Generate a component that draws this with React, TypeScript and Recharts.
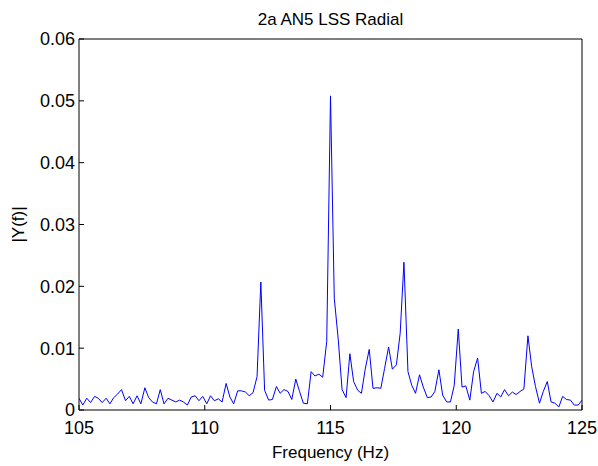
import { Label, Line, LineChart, XAxis, YAxis } from "recharts"

// frequency bins (Hz), step 2/13 Hz
const freqs = [
  105.0, 105.15, 105.31, 105.46, 105.62, 105.77, 105.92, 106.08, 106.23, 106.38, 106.54, 106.69, 106.85,
  107.0, 107.15, 107.31, 107.46, 107.62, 107.77, 107.92, 108.08, 108.23, 108.38, 108.54, 108.69, 108.85,
  109.0, 109.15, 109.31, 109.46, 109.62, 109.77, 109.92, 110.08, 110.23, 110.38, 110.54, 110.69, 110.85,
  111.0, 111.15, 111.31, 111.46, 111.62, 111.77, 111.92, 112.08, 112.23, 112.38, 112.54, 112.69, 112.85,
  113.0, 113.15, 113.31, 113.46, 113.62, 113.77, 113.92, 114.08, 114.23, 114.38, 114.54, 114.69, 114.85,
  115.0, 115.15, 115.31, 115.46, 115.62, 115.77, 115.92, 116.08, 116.23, 116.38, 116.54, 116.69, 116.85,
  117.0, 117.15, 117.31, 117.46, 117.62, 117.77, 117.92, 118.08, 118.23, 118.38, 118.54, 118.69, 118.85,
  119.0, 119.15, 119.31, 119.46, 119.62, 119.77, 119.92, 120.08, 120.23, 120.38, 120.54, 120.69, 120.85,
  121.0, 121.15, 121.31, 121.46, 121.62, 121.77, 121.92, 122.08, 122.23, 122.38, 122.54, 122.69, 122.85,
  123.0, 123.15, 123.31, 123.46, 123.62, 123.77, 123.92, 124.08, 124.23, 124.38, 124.54, 124.69, 124.85,
  125.0,
]

// |Y(f)|
const magnitude = [
  0.0019, 0.0008, 0.0019, 0.0012, 0.0022, 0.0019, 0.0012, 0.0019, 0.001, 0.002, 0.0026, 0.0033, 0.0015,
  0.0022, 0.001, 0.0023, 0.001, 0.0036, 0.002, 0.0013, 0.001, 0.0033, 0.001, 0.0019, 0.0016, 0.0013,
  0.0016, 0.0013, 0.0008, 0.0021, 0.0023, 0.0015, 0.0022, 0.001, 0.0023, 0.0015, 0.0018, 0.0013, 0.0043,
  0.0021, 0.001, 0.0031, 0.0031, 0.0029, 0.0023, 0.0028, 0.0054, 0.0207, 0.0032, 0.0016, 0.0017, 0.0038,
  0.0027, 0.0033, 0.003, 0.0017, 0.005, 0.003, 0.0011, 0.001, 0.0062, 0.0055, 0.0058, 0.0053, 0.0111,
  0.0508, 0.0181, 0.0113, 0.0033, 0.002, 0.0091, 0.0046, 0.0032, 0.0027, 0.0066, 0.0098, 0.0035, 0.0036,
  0.0035, 0.0067, 0.0102, 0.0066, 0.0073, 0.0124, 0.0239, 0.0062, 0.004, 0.0027, 0.0057, 0.0037, 0.002,
  0.0021, 0.003, 0.0065, 0.0024, 0.0013, 0.0013, 0.004, 0.0131, 0.0037, 0.0039, 0.0016, 0.0062, 0.0084,
  0.0027, 0.003, 0.0023, 0.0013, 0.0027, 0.0021, 0.0033, 0.0023, 0.0029, 0.0025, 0.003, 0.0034, 0.012,
  0.007, 0.0038, 0.0011, 0.003, 0.0046, 0.0013, 0.0011, 0.0005, 0.0022, 0.0017, 0.0016, 0.0008, 0.0008,
  0.0016,
]

const xTicks = [105, 110, 115, 120, 125]
const yTicks = [0, 0.01, 0.02, 0.03, 0.04, 0.05, 0.06]

const data = freqs.map((f, i) => ({ freq: f, mag: magnitude[i] }))

const font = "Arial, 'Liberation Sans', sans-serif"
const tickStyle = { fontSize: 18, fill: "#000", fontFamily: font }
const labelStyle = { fontSize: 17, fill: "#000", fontFamily: font }
const axisLine = { stroke: "#000", strokeWidth: 1 }

export default function App() {
  return (
    <div style={{ position: "absolute", left: 0, top: 0, width: 598, height: 466 }}>
      <LineChart width={598} height={466} data={data} margin={{ top: 38, right: 15, bottom: 8, left: 13 }}>
        <XAxis
          dataKey="freq"
          type="number"
          domain={[105, 125]}
          ticks={xTicks}
          interval={0}
          allowDataOverflow
          height={48}
          axisLine={axisLine}
          tickLine={{ stroke: "#000" }}
          tickSize={-5}
          tickMargin={16}
          tick={tickStyle}
        >
          <Label value="Frequency (Hz)" position="insideBottom" offset={0} style={labelStyle} />
        </XAxis>
        <XAxis
          xAxisId="top"
          orientation="top"
          type="number"
          domain={[105, 125]}
          ticks={xTicks}
          interval={0}
          height={1}
          axisLine={axisLine}
          tickLine={{ stroke: "#000" }}
          tickSize={-5}
          tick={false}
        >
          <Label value="2a AN5 LSS Radial" position="top" offset={13} style={labelStyle} />
        </XAxis>
        <YAxis
          type="number"
          domain={[0, 0.06]}
          ticks={yTicks}
          interval={0}
          allowDataOverflow
          width={66}
          axisLine={axisLine}
          tickLine={{ stroke: "#000" }}
          tickSize={-5}
          tickMargin={9}
          tick={tickStyle}
          tickFormatter={(v: number) => (v === 0 ? "0" : v.toFixed(2))}
        >
          <Label
            value="|Y(f)|"
            angle={-90}
            position="insideLeft"
            offset={5}
            style={{ ...labelStyle, textAnchor: "middle" }}
          />
        </YAxis>
        <YAxis
          yAxisId="right"
          orientation="right"
          type="number"
          domain={[0, 0.06]}
          ticks={yTicks}
          interval={0}
          width={1}
          axisLine={axisLine}
          tickLine={{ stroke: "#000" }}
          tickSize={-5}
          tick={false}
        />
        <Line
          type="linear"
          dataKey="mag"
          stroke="#0000ff"
          strokeWidth={1}
          dot={false}
          isAnimationActive={false}
        />
      </LineChart>
    </div>
  )
}
